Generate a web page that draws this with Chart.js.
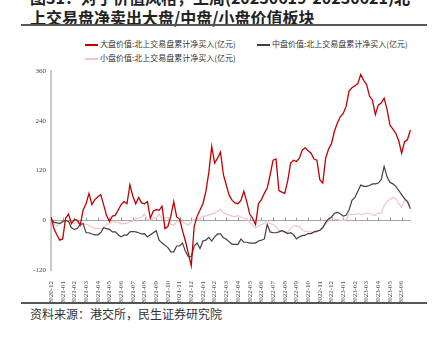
<!DOCTYPE html>
<html>
<head>
<meta charset="utf-8">
<script src="https://cdn.jsdelivr.net/npm/chart.js@4.4.0/dist/chart.umd.min.js"></script>
<style>
body { margin:0; width:437px; height:340px; overflow:hidden; background:#fff; position:relative; font-family:"Noto Sans CJK SC", sans-serif; }
.title { position:absolute; left:30px; top:-13px; font-size:16px; font-weight:bold; line-height:20px; color:#222; white-space:nowrap; }
.rule { position:absolute; left:21px; width:406px; height:2px; background:#555; }
.item { position:absolute; white-space:nowrap; font-size:8px; line-height:10px; color:#333; }
.item i { display:inline-block; width:13px; height:1.5px; vertical-align:middle; margin-right:2px; }
.foot { position:absolute; left:30px; top:306px; font-size:12px; line-height:16px; color:#333; white-space:nowrap; }
#wrap { position:absolute; left:0; top:62px; width:437px; height:240px; }
</style>
</head>
<body>
<div class="title">图31：对于价值风格，上周(20230619-20230621)北<br>上交易盘净卖出大盘/中盘/小盘价值板块</div>
<div class="rule" style="top:24px"></div>
<div id="legend"></div>
<div id="wrap"><canvas id="myChart" width="437" height="240"></canvas></div>
<div class="rule" style="top:302px"></div>
<div class="foot">资料来源：港交所，民生证券研究院</div>
<script>
// 月份刻度
let monthLabels = [
  '2020-12',
  '2021-01','2021-02','2021-03','2021-04','2021-05','2021-06',
  '2021-07','2021-08','2021-09','2021-10','2021-11','2021-12',
  '2022-01','2022-02','2022-03','2022-04','2022-05','2022-06',
  '2022-07','2022-08','2022-09','2022-10','2022-11','2022-12',
  '2023-01','2023-02','2023-03','2023-04','2023-05','2023-06'
];
// 每个点相隔约一周(四分之一个月)
let stepMonths = 0.25;

let seriesNames = [
  '大盘价值:北上交易盘累计净买入(亿元)',
  '中盘价值:北上交易盘累计净买入(亿元)',
  '小盘价值:北上交易盘累计净买入(亿元)'
];
let seriesColors = ['#c00000', '#404040', '#f2c4c4'];

// 大盘价值
let bigValue = [
  8, -20, -35, -48,   -45, 5, 15, -8,     2, 0, -12, 25,      40, 65, 38, 50,
  56, 62, 38, 12,     -3, 10, 12, 25,     38, 45, 40, 86,     58, 40, 55, 42,
  40, 45, 5, 22,      26, 24, 34, -20,    -15, 10, 45, 8,     3, -25, -50, -80,
  -110, -15, 10, 25,  40, 70, 115, 178,   138, 150, 165, 110, 85, 60, 48, 42,
  40, 48, 70, 45,     15, 5, -10, 40,     50, 65, 78, 110,    145, 148, 72, 68,
  65, 95, 138, 145,   142, 150, 170, 175, 168, 162, 148, 145, 98, 90, 150, 172,
  185, 215, 235, 250, 258, 275, 312, 320, 325, 330, 352, 338, 328, 300, 290, 255,
  278, 283, 295, 268, 230, 220, 210, 192, 162, 190, 195, 218
];
// 中盘价值
let midValue = [
  5, -5, -6, -8,      -3, 0, -3, -18,     -22, -20, -10, -8,  -30, -30, -33, -35,
  -35, -30, -18, -20, -22, -28, -28, -35, -40, -36, -36, -28, -27, -28, -30, -33,
  -32, -40, -35, -30, -25, -48, -55, -60, -66, -76, -76, -62, -62, -55, -75, -88,
  -88, -62, -55, -68, -50, -48, -41, -50, -40, -33, -33, -42, -46, -52, -58, -58,
  -58, -45, -53, -53, -55, -55, -55, -50, -48, -45, -10, -28, -30, -30, -28, -25,
  -28, -32, -30, -35, -45, -40, -37, -36, -32, -32, -28, -26, -24, -18, -5, 3,
  8, 17, 19, 16,      10, 12, 25, 48,     55, 70, 85, 82,     82, 84, 88, 88,
  90, 98, 130, 105,   92, 88, 82, 72,     62, 52, 45, 28
];
// 小盘价值
let smallValue = [
  3, -10, -13, -6,    -5, -4, -2, -4,     -8, -2, -6, -8,     -10, -12, -16, -20,
  -20, -20, -18, -10, -8, -3, -5, -5,     -8, -8, -7, -3,     -2, 4, 5, 8,
  15, 2, 0, 5,        6, 15, 3, 6,        7, -10, -12, -4,    -2, -3, -8, -12,
  -5, 2, 4, 3,        10, 10, 13, 15,     18, 22, 27, 18,     15, 12, 10, 9,
  11, 8, 5, 4,        -5, -12, -18, -14,  -10, -8, 0, -8,     -10, -15, -25, -25,
  -30, -28, -20, -14, -13, -15, -24, -26, -28, -28, -30, -28, -25, -15, -10, 0,
  5, 3, 2, 0,         0, 1, 14, 15,       14, 16, 14, 15,     17, 17, 13, 12,
  18, 17, 35, 45,     50, 55, 52, 40,     32, 48, 45, 35
];

let yMin = -120, yMax = 360, yStep = 120;

function toPoints(arr){
  return arr.map(function(v, i){ return {x: i * stepMonths, y: v}; });
}

/* legend */
let legendPos = [[85, 39], [257, 39], [85, 53]];
let legendHtml = '';
seriesNames.forEach(function(name, i){
  legendHtml += '<div class="item" style="left:' + legendPos[i][0] + 'px;top:' + legendPos[i][1] + 'px">'
    + '<i style="background:' + seriesColors[i] + '"></i>' + name + '</div>';
});
document.getElementById('legend').innerHTML = legendHtml;

/* 零轴上的月份小刻度 */
let zeroTicks = {
  id: 'zeroTicks',
  beforeDatasetsDraw(chart){
    let ctx = chart.ctx, x = chart.scales.x, y = chart.scales.y;
    let y0 = Math.round(y.getPixelForValue(0)) + 0.5;
    ctx.save();
    ctx.strokeStyle = '#9a9a9a';
    ctx.lineWidth = 1;
    ctx.beginPath();
    monthLabels.forEach(function(m, i){
      let px = Math.round(x.getPixelForValue(i)) + 0.5;
      ctx.moveTo(px, y0);
      ctx.lineTo(px, y0 - 3);
    });
    ctx.stroke();
    ctx.restore();
  }
};

let tickFont = {family: '"Liberation Serif", "DejaVu Serif", serif', size: 7};

let data = {
  datasets: [
    {label: seriesNames[0], data: toPoints(bigValue), borderColor: seriesColors[0], borderWidth: 1.3},
    {label: seriesNames[1], data: toPoints(midValue), borderColor: seriesColors[1], borderWidth: 1.2},
    {label: seriesNames[2], data: toPoints(smallValue), borderColor: seriesColors[2], borderWidth: 1.2}
  ]
};

let config = {
  type: 'line',
  data: data,
  options: {
    responsive: false,
    animation: false,
    devicePixelRatio: 1,
    layout: {padding: {top: 7, right: 26, left: 0, bottom: 0}},
    elements: {point: {radius: 0}, line: {tension: 0}},
    plugins: {legend: {display: false}, tooltip: {enabled: false}},
    scales: {
      x: {
        type: 'linear',
        min: 0,
        max: 30.8,
        grid: {display: false},
        border: {display: false},
        ticks: {
          stepSize: 1,
          autoSkip: false,
          includeBounds: false,
          maxRotation: 90,
          minRotation: 90,
          padding: 3,
          font: tickFont,
          color: '#444',
          callback: function(v){ return Number.isInteger(v) ? monthLabels[v] : ''; }
        },
        afterFit: function(s){ s.height = 32; }
      },
      y: {
        min: yMin,
        max: yMax,
        grid: {
          drawTicks: false,
          color: function(c){ return c.tick && c.tick.value === 0 ? '#a6a6a6' : 'rgba(0,0,0,0)'; }
        },
        border: {color: '#c8c8c8', width: 2},
        ticks: {stepSize: yStep, padding: 5, font: tickFont, color: '#444'},
        afterFit: function(s){ s.width = 51; }
      }
    }
  },
  plugins: [zeroTicks]
};

let myChart = new Chart(document.getElementById('myChart'), config);
</script>
</body>
</html>
